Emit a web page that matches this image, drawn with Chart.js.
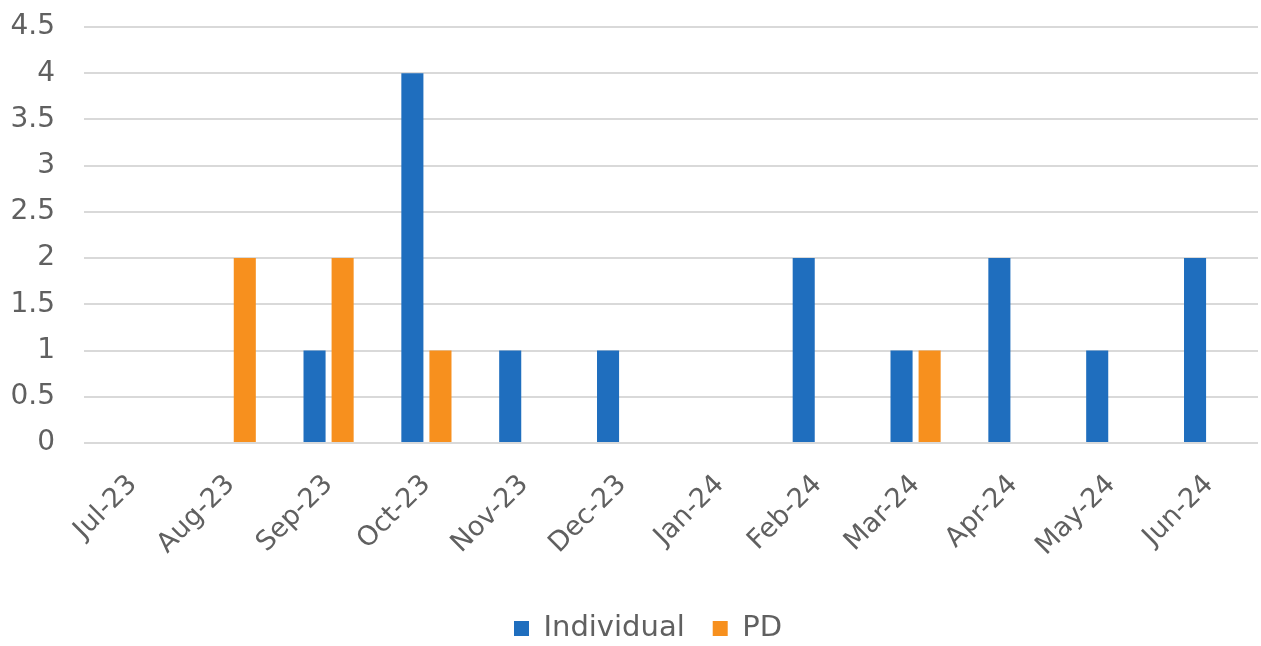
<!DOCTYPE html>
<html>
<head>
<meta charset="utf-8">
<script src="https://cdn.jsdelivr.net/npm/chart.js@4"></script>
<style>
  html, body { margin: 0; padding: 0; background: #ffffff; }
  #wrap { width: 1261px; height: 646px; }
</style>
</head>
<body>
<div id="wrap"><canvas id="c" width="1261" height="646"></canvas></div>
<script>
// Monthly counts, July 2023 to June 2024
const months = ['Jul-23', 'Aug-23', 'Sep-23', 'Oct-23', 'Nov-23', 'Dec-23',
                'Jan-24', 'Feb-24', 'Mar-24', 'Apr-24', 'May-24', 'Jun-24'];
const individual = [0, 0, 1, 4, 1, 1, 0, 2, 1, 2, 1, 2];
const pd         = [0, 2, 2, 1, 0, 0, 0, 0, 1, 0, 0, 0];
const yTicks = [0, 0.5, 1, 1.5, 2, 2.5, 3, 3.5, 4, 4.5];

const FONT = '"DejaVu Sans", sans-serif';
const GREY = '#606060';

// Center the legend under the plot area rather than the whole canvas
const legendUnderPlot = {
  id: 'legendUnderPlot',
  afterLayout(chart) {
    const lg = chart.legend;
    if (lg) {
      lg.left = chart.chartArea.left - 46;
      lg.right = chart.chartArea.right;
    }
  }
};

new Chart(document.getElementById('c'), {
  type: 'bar',
  data: {
    labels: months,
    datasets: [
      { label: 'Individual', data: individual, backgroundColor: '#1F6EBE',
        categoryPercentage: 0.574, barPercentage: 0.786 },
      { label: 'PD', data: pd, backgroundColor: '#F7901E',
        categoryPercentage: 0.574, barPercentage: 0.786 }
    ]
  },
  plugins: [legendUnderPlot],
  options: {
    responsive: false,
    animation: false,
    layout: { padding: { top: 27, right: 3, left: 0, bottom: -7 } },
    plugins: {
      tooltip: { enabled: false },
      legend: {
        position: 'bottom',
        labels: {
          boxWidth: 15, boxHeight: 15, padding: 28,
          color: GREY, font: { family: FONT, size: 29 }
        }
      }
    },
    scales: {
      x: {
        grid: { display: false },
        border: { display: false },
        ticks: {
          color: GREY, font: { family: FONT, size: 27 },
          minRotation: 45, maxRotation: 45, padding: 18
        },
        afterFit: (s) => { s.height = 143; }
      },
      y: {
        min: 0, max: 4.5,
        afterBuildTicks: (s) => { s.ticks = yTicks.map(v => ({ value: v })); },
        grid: { color: '#D9D9D9', lineWidth: 2, drawTicks: false },
        border: { display: false },
        ticks: {
          color: GREY, font: { family: FONT, size: 28 }, padding: 29,
          callback: (v) => String(v)
        },
        afterFit: (s) => {
          s.width = 84;
          s.paddingTop = 15;
          s.paddingBottom = 15;
        }
      }
    }
  }
});
</script>
</body>
</html>
